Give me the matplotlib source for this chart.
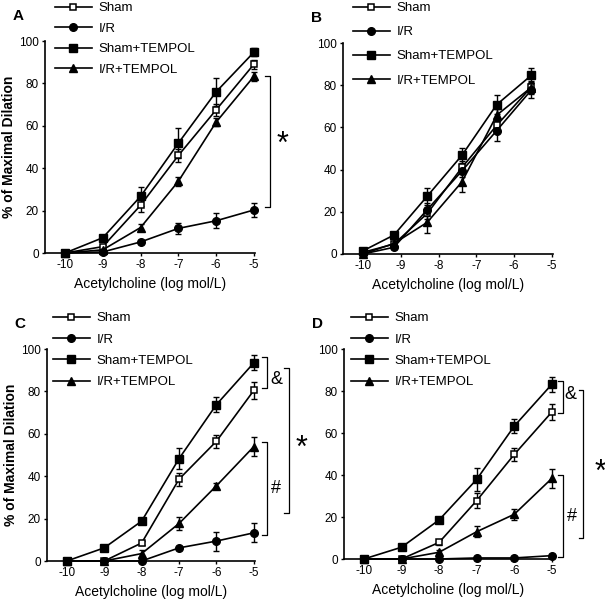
import matplotlib
matplotlib.use("Agg")
import matplotlib.pyplot as plt

plt.rcParams['font.family'] = ['Liberation Sans', 'DejaVu Sans']
plt.rcParams['axes.unicode_minus'] = False

labels = ["Sham", "I/R", "Sham+TEMPOL", "I/R+TEMPOL"]
x_ticks = [-10, -9, -8, -7, -6, -5]
y_ticks = [0, 20, 40, 60, 80, 100]

# panel A
x_a = [-10, -9, -8, -7, -6, -5]
a_sham = [0, 3, 22.5, 46, 67.5, 89]
a_ir = [0, 0.5, 5.2, 11.6, 15.2, 20.3]
a_st = [0, 7.2, 26.7, 51.8, 76, 94.7]
a_irt = [0, 1.5, 12, 33.8, 61.7, 83.3]
a_sham_err = [0, 1, 3, 3, 3, 2]
a_ir_err = [0, 0.5, 1, 2.5, 3.5, 3.5]
a_st_err = [0, 1, 4.5, 7, 6.5, 2]
a_irt_err = [0, 0.5, 1.5, 2, 2, 2]

# panel B (doses are shifted)
x_b = [-10, -9.18, -8.3, -7.38, -6.46, -5.55]
b_sham = [0.8, 4.7, 19.2, 41, 61, 79]
b_ir = [0, 3.2, 21, 39.4, 58.5, 77.6]
b_st = [1.5, 9, 27.4, 46.8, 70.8, 84.6]
b_irt = [0, 5, 15, 34.2, 65.8, 78.9]
b_sham_err = [0.5, 1, 2.5, 3, 3, 2.5]
b_ir_err = [0, 1, 3, 3, 5, 3.5]
b_st_err = [0.5, 1, 4, 3.5, 4.5, 3.5]
b_irt_err = [0, 1, 5, 5, 3, 3]

# panel C
x_c = [-10, -9, -8, -7, -6, -5]
c_sham = [0, 0, 8.5, 38.6, 56.5, 80.5]
c_ir = [0, 0, 0, 6.2, 9.4, 13.3]
c_st = [0, 6.2, 18.8, 48.3, 73.8, 93.5]
c_irt = [0, 0, 3.5, 17.7, 35.5, 54]
c_sham_err = [0, 0, 1, 3, 3, 4]
c_ir_err = [0, 0, 0.5, 1, 4.5, 4.5]
c_st_err = [0, 0.5, 1, 5, 3.5, 3.5]
c_irt_err = [0, 0, 1.5, 3, 1.5, 4.5]

# panel D
x_d = [-10, -9, -8, -7, -6, -5]
d_sham = [0, 0, 7.9, 27.8, 49.8, 70]
d_ir = [0, 0, 0, 0.5, 0.5, 1.6]
d_st = [0, 5.6, 18.6, 37.9, 63.3, 83.2]
d_irt = [0, 0, 3.2, 13, 21.3, 38.4]
d_sham_err = [0, 0, 1, 3.5, 3, 4]
d_ir_err = [0, 0, 0.5, 0.5, 0.5, 1]
d_st_err = [0, 0.5, 1, 5.5, 3.5, 3.5]
d_irt_err = [0, 0, 1, 2.5, 2.5, 4.5]

styles = [
    dict(marker='s', ms=5, mfc='white', mec='k', mew=1.1),
    dict(marker='o', ms=5.5, mfc='k', mec='k'),
    dict(marker='s', ms=6.2, mfc='k', mec='k'),
    dict(marker='^', ms=6, mfc='k', mec='k'),
]

fig = plt.figure(figsize=(6.05, 6.0), dpi=100)

panels = [
    ("A", [45, 41, 210, 212], x_a, [a_sham, a_ir, a_st, a_irt],
     [a_sham_err, a_ir_err, a_st_err, a_irt_err], True, (55, 2, 0.63)),
    ("B", [343, 43, 210, 211], x_b, [b_sham, b_ir, b_st, b_irt],
     [b_sham_err, b_ir_err, b_st_err, b_irt_err], False, (353, 2, 0.9)),
    ("C", [47, 349, 208, 212], x_c, [c_sham, c_ir, c_st, c_irt],
     [c_sham_err, c_ir_err, c_st_err, c_irt_err], True, (53, 312, 0.69)),
    ("D", [344, 349, 209, 210], x_d, [d_sham, d_ir, d_st, d_irt],
     [d_sham_err, d_ir_err, d_st_err, d_irt_err], False, (351, 312, 0.69)),
]

axes = {}
for name, box, xs, series, errs, ylab, leg in panels:
    l, t, w, h = box
    ax = fig.add_axes([l / 605, (600 - t - h) / 600, w / 605, h / 600])
    axes[name] = ax
    for ys, es, lab, st in zip(series, errs, labels, styles):
        ax.errorbar(xs, ys, yerr=es, fmt='none', ecolor='k', capsize=2,
                    elinewidth=1, capthick=1, clip_on=False, zorder=2)
        ax.plot(xs, ys, color='k', lw=1.2, label=lab, clip_on=False,
                zorder=3, **st)
    ax.set_xlim(-10.53, -4.97)
    ax.set_ylim(0, 100)
    ax.set_xticks(x_ticks)
    ax.set_yticks(y_ticks)
    ax.tick_params(labelsize=8.5, length=2.5, width=1, pad=2)
    ax.spines['top'].set_visible(False)
    ax.spines['right'].set_visible(False)
    ax.spines['left'].set_linewidth(1.2)
    ax.spines['bottom'].set_linewidth(1.2)
    ax.set_xlabel("Acetylcholine (log mol/L)", fontsize=10, labelpad=4)
    if ylab:
        ax.set_ylabel("% of Maximal Dilation", fontsize=10,
                      fontweight='bold', labelpad=2)
    fig.text((l - 27) / 605, 1 - (t - 25) / 600, name, fontsize=11,
             fontweight='bold', ha='center', va='center')
    lx, ly, sp = leg
    ax.legend(loc='upper left', bbox_to_anchor=(lx / 605, 1 - ly / 600),
              bbox_transform=fig.transFigure, frameon=False, fontsize=9.5,
              handlelength=2.8, handletextpad=0.5, labelspacing=sp,
              borderpad=0, borderaxespad=0)


def bracket(ax, x, y1, y2, tick=0.13):
    ax.plot([x - tick, x, x, x - tick], [y1, y1, y2, y2], color='k',
            lw=0.9, clip_on=False)


# significance brackets
ax = axes["A"]
bracket(ax, -4.58, 83.7, 21.7)
ax.text(-4.24, 51, "*", fontsize=22, ha='center', va='center')

ax = axes["C"]
bracket(ax, -4.65, 96.4, 81.4)
ax.text(-4.41, 85.4, "&", fontsize=13, ha='center', va='center')
bracket(ax, -4.65, 56.3, 12.3)
ax.text(-4.41, 34.3, "#", fontsize=13, ha='center', va='center')
bracket(ax, -4.07, 90.9, 22.5)
ax.text(-3.72, 53, "*", fontsize=22, ha='center', va='center')

ax = axes["D"]
bracket(ax, -4.71, 84.9, 69.4)
ax.text(-4.5, 78.4, "&", fontsize=13, ha='center', va='center')
bracket(ax, -4.71, 40, 1.1)
ax.text(-4.47, 20.2, "#", fontsize=13, ha='center', va='center')
bracket(ax, -4.16, 80.5, 9.8)
ax.text(-3.71, 41, "*", fontsize=22, ha='center', va='center')

fig.savefig("out.png", dpi=100)
